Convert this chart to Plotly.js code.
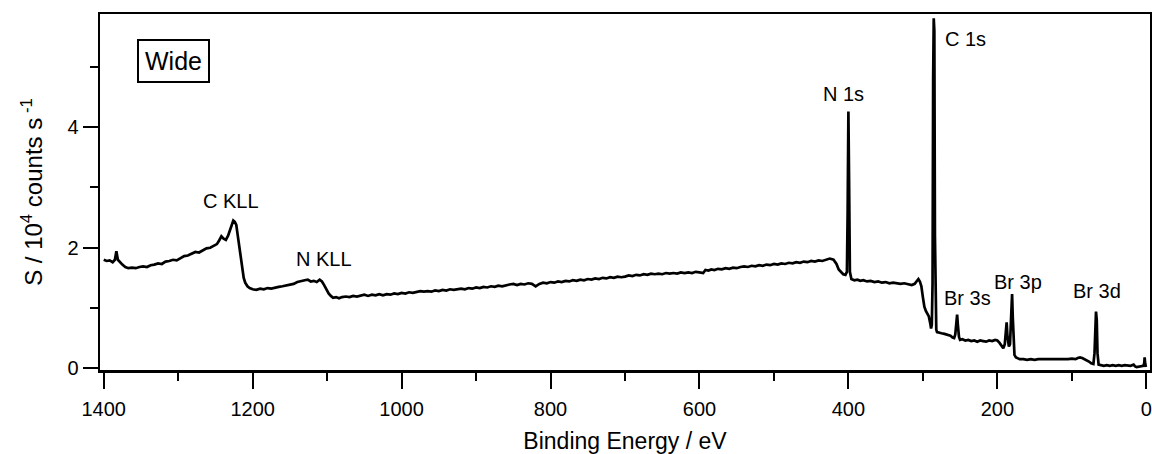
<!DOCTYPE html>
<html>
<head>
<meta charset="utf-8">
<script src="https://cdn.plot.ly/plotly-3.0.1.min.js"></script>
<style>
  html, body { margin: 0; padding: 0; background: #fff; }
  #chart { width: 1152px; height: 454px; }
</style>
</head>
<body>
<div id="chart"></div>
<script>
// ---- Data (binding energy in eV, signal in 10^4 counts/s) ----
const energyAuger = [1400,1396,1392,1388,1385,1383,1381,1378,1375,1371,
  1367,1362,1357,1352,1347,1342,1337,1332,1327,1322,
  1317,1312,1307,1302,1297,1292,1287,1282,1277,1272,
  1267,1262,1257,1252,1248,1245,1242,1239,1236,1233,
  1230,1228,1226,1224,1222,1220,1218,1216,1214,1212,
  1210,1207,1204,1200,
  1195,1190,1185,1180,1175,1170,1165,1160,1155,1150,
  1145,1140,1135,1130,1126,1122,1118,1114,1110,1107,
  1104,1101,1098,1095,1092,1088,1084,1080,1075,1070,
  1065,1060,1055];
const signalAuger = [1.80,1.78,1.79,1.76,1.80,1.94,1.80,1.75,1.72,1.68,
  1.66,1.67,1.66,1.68,1.69,1.68,1.71,1.72,1.74,1.73,
  1.77,1.78,1.80,1.79,1.83,1.86,1.87,1.90,1.93,1.92,
  1.96,1.99,2.00,2.03,2.06,2.12,2.19,2.15,2.13,2.20,
  2.30,2.40,2.45,2.43,2.38,2.20,2.00,1.80,1.63,1.50,
  1.42,1.36,1.33,1.31,
  1.30,1.32,1.31,1.33,1.32,1.34,1.35,1.36,1.37,1.38,
  1.40,1.43,1.45,1.46,1.47,1.44,1.45,1.43,1.47,1.44,
  1.38,1.30,1.24,1.20,1.17,1.18,1.16,1.18,1.19,1.18,
  1.20,1.19,1.21];

const energyMid = [1050,1045,1040,1035,1030,1025,1020,1015,1010,1005,
  1000,995,990,985,980,975,970,965,960,955,
  950,945,940,935,930,925,920,915,910,905,
  900,895,890,885,880,875,870,865,860,855,
  850,845,840,835,830,825,820,815,810,805,
  800,795,790,785,780,775,770,765,760,755,
  750,745,740,735,730,725,720,715,710,705,
  700,695,690,685,680,675,670,665,660,655,
  650,645,640,635,630,625,620,615,610,605,
  600,595,592,588,584,580,575,570,565,560,
  555,550,545,540,535,530,525,520,515,510,
  505,500,495,490,485,480,475,470,465,460,
  455,450,445,440,435,430];
const signalMid = [1.22,1.20,1.22,1.21,1.23,1.21,1.23,1.22,1.24,1.23,
  1.25,1.24,1.26,1.25,1.26,1.28,1.27,1.28,1.27,1.29,
  1.28,1.30,1.29,1.31,1.30,1.31,1.32,1.31,1.33,1.32,
  1.34,1.33,1.35,1.34,1.36,1.35,1.37,1.36,1.38,1.39,
  1.40,1.38,1.40,1.39,1.41,1.40,1.36,1.40,1.42,1.41,
  1.43,1.42,1.44,1.43,1.45,1.44,1.46,1.45,1.47,1.46,
  1.48,1.47,1.49,1.48,1.50,1.49,1.51,1.50,1.52,1.51,
  1.52,1.54,1.53,1.55,1.54,1.56,1.55,1.57,1.56,1.57,
  1.56,1.58,1.57,1.58,1.57,1.59,1.58,1.59,1.58,1.60,
  1.59,1.58,1.63,1.62,1.64,1.63,1.65,1.64,1.66,1.65,
  1.67,1.66,1.68,1.69,1.68,1.70,1.69,1.71,1.70,1.72,
  1.71,1.73,1.72,1.74,1.73,1.75,1.74,1.76,1.75,1.77,
  1.76,1.78,1.77,1.79,1.78,1.80];

const energyCore = [425,420,416,413,410,407,404,402,401,400,
  399,398,396,392,388,384,380,375,370,365,
  360,355,350,345,340,335,330,325,320,315,
  311,308,306,304,302,300,298,296,294,292,
  290,289,288,
  287,286.2,285.4,284.6,283.8,283,282,281,
  279,275,271,267,263,260,258,256.5,255,254,
  253,251.5,250,247,243,239,235,231,227,223,
  219,215,211,207,203,200,197,194,192,190,
  188.5,187.5,186.5,185.5,184.5,183,182,181,180.2,179.3,
  178.3,177,175,172,170];
const signalCore = [1.82,1.80,1.73,1.64,1.59,1.56,1.55,1.60,2.60,4.26,
  3.00,1.60,1.48,1.46,1.47,1.45,1.46,1.44,1.45,1.43,
  1.44,1.42,1.43,1.41,1.42,1.41,1.40,1.41,1.39,1.38,
  1.40,1.46,1.48,1.44,1.36,1.18,1.02,0.95,0.90,0.86,
  0.74,0.66,0.72,
  1.40,4.80,5.81,5.60,2.20,0.85,0.64,0.60,
  0.59,0.58,0.57,0.56,0.54,0.51,0.50,0.56,0.75,0.89,
  0.72,0.52,0.47,0.48,0.46,0.47,0.45,0.46,0.44,0.46,
  0.45,0.44,0.46,0.45,0.47,0.46,0.42,0.37,0.33,0.40,
  0.70,0.76,0.55,0.38,0.36,0.40,0.75,1.15,1.23,0.85,
  0.40,0.22,0.18,0.16,0.15];

const energyLow = [165,160,155,150,145,140,135,130,125,120,
  115,110,105,100,95,92,89,86,83,80,
  77,74,71,69.5,68.5,67.5,66.5,65.5,64,61,
  57,53,49,45,41,37,33,29,25,21,
  17,15,13,10,7,4,2.8,2.2,1.5,0.5];
const signalLow = [0.15,0.14,0.15,0.14,0.15,0.15,0.14,0.15,0.14,0.15,
  0.15,0.14,0.15,0.16,0.15,0.17,0.18,0.17,0.15,0.14,
  0.11,0.08,0.07,0.25,0.75,0.94,0.80,0.25,0.06,0.05,
  0.04,0.05,0.04,0.05,0.04,0.05,0.04,0.05,0.05,0.04,
  0.06,0.03,0.02,0.03,0.03,0.04,0.08,0.18,0.08,0.02];

// Peak labels
const peakLabels = ["C KLL","N KLL","N 1s","C 1s","Br 3s","Br 3p","Br 3d"];
const peakLabelX = [1229.5,1104.7,406,242.3,239.6,171.8,65.8];
const peakLabelY = [2.77,1.81,4.56,5.47,1.16,1.43,1.28];

const panelLabel = "Wide";
const xTitle = "Binding Energy / eV";
const yTitle = "S / 10<sup>4</sup> counts s<sup>&nbsp;-1</sup>";

const FONT = "Liberation Sans, Arial, Helvetica, sans-serif";

const energy = energyAuger.concat(energyMid, energyCore, energyLow);
const signal = signalAuger.concat(signalMid, signalCore, signalLow);

const trace = {
  x: energy, y: signal, type: "scatter", mode: "lines",
  line: {color: "#000", width: 2.7}, hoverinfo: "skip"
};

const annotations = peakLabels.map((t, i) => ({
  x: peakLabelX[i], y: peakLabelY[i], xref: "x", yref: "y",
  text: t, showarrow: false, xanchor: "center", yanchor: "middle",
  font: {family: FONT, size: 20, color: "#000"}
}));
annotations.push({
  x: 1306, y: 5.10, xref: "x", yref: "y", text: panelLabel, showarrow: false,
  xanchor: "center", yanchor: "middle",
  font: {family: FONT, size: 25, color: "#000"},
  bordercolor: "#000", borderwidth: 2, borderpad: 6, bgcolor: "#fff"
});

const layout = {
  width: 1152, height: 454,
  margin: {l: 100, r: 2, t: 14, b: 84},
  paper_bgcolor: "#fff", plot_bgcolor: "#fff",
  showlegend: false,
  font: {family: FONT, color: "#000"},
  xaxis: {
    range: [1405, -5], tick0: 0, dtick: 200,
    ticks: "outside", ticklen: 16, tickwidth: 2, tickcolor: "#000",
    ticklabelstandoff: 3,
    showline: true, linewidth: 2.5, linecolor: "#000", mirror: true,
    showgrid: false, zeroline: false,
    tickfont: {family: FONT, size: 20, color: "#000"},
    minor: {tick0: 0, dtick: 100, ticks: "outside", ticklen: 8, tickwidth: 2, tickcolor: "#000", showgrid: false},
    title: {text: xTitle, font: {family: FONT, size: 23, color: "#000"}, standoff: 19}
  },
  yaxis: {
    range: [-0.03, 5.88], tick0: 0, dtick: 2,
    ticks: "outside", ticklen: 15, tickwidth: 2, tickcolor: "#000",
    showline: true, linewidth: 2.5, linecolor: "#000", mirror: true,
    showgrid: false, zeroline: false,
    tickfont: {family: FONT, size: 20, color: "#000"},
    minor: {tick0: 0, dtick: 1, ticks: "outside", ticklen: 8, tickwidth: 2, tickcolor: "#000", showgrid: false},
    title: {text: yTitle, font: {family: FONT, size: 24, color: "#000"}, standoff: 18}
  },
  annotations: annotations
};

Plotly.newPlot("chart", [trace], layout, {staticPlot: true, displayModeBar: false});
</script>
</body>
</html>
